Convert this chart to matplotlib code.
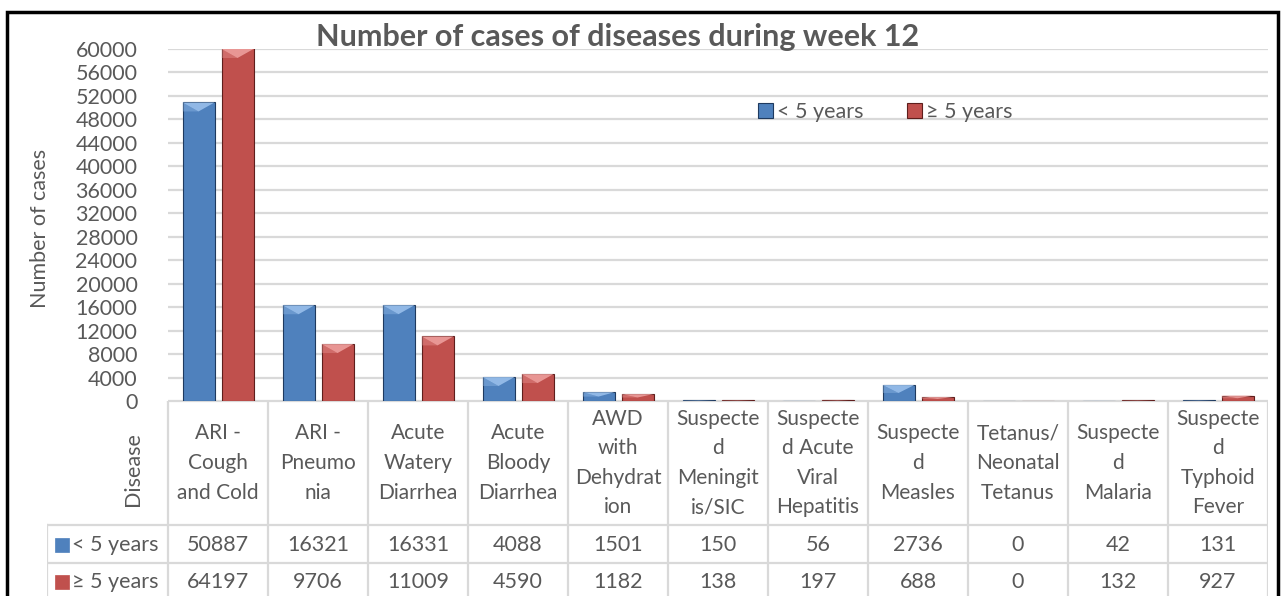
import matplotlib
matplotlib.use("Agg")
import matplotlib.pyplot as plt
from matplotlib.patches import Polygon, Rectangle
from matplotlib.lines import Line2D

plt.rcParams['font.family'] = ['Lato', 'DejaVu Sans']

# data
diseases = ["ARI -\nCough\nand Cold", "ARI -\nPneumo\nnia", "Acute\nWatery\nDiarrhea",
            "Acute\nBloody\nDiarrhea", "AWD\nwith\nDehydrat\nion", "Suspecte\nd\nMeningit\nis/SIC",
            "Suspecte\nd Acute\nViral\nHepatitis", "Suspecte\nd\nMeasles", "Tetanus/\nNeonatal\nTetanus",
            "Suspecte\nd\nMalaria", "Suspecte\nd\nTyphoid\nFever"]
under5 = [50887, 16321, 16331, 4088, 1501, 150, 56, 2736, 0, 42, 131]
over5 = [64197, 9706, 11009, 4590, 1182, 138, 197, 688, 0, 132, 927]
series_names = ["< 5 years", "\u2265 5 years"]
yticks = list(range(0, 60001, 4000))

W, H = 1286, 596
grey = '#595959'
grid = '#D9D9D9'
blue, blue_dk, blue_lt = '#4F81BD', '#1F3A5F', '#9DC3EE'
red, red_dk, red_lt = '#C0504D', '#5E1E1C', '#F0A3A1'
fs = 15.5

fig = plt.figure(figsize=(W / 100, H / 100), dpi=100)

def fx(px):
    return px / W

def fy(py):
    return 1 - py / H

# chart border
fig.patches.append(Rectangle((fx(7), fy(640)), fx(1278) - fx(7), fy(12) - fy(640),
                             transform=fig.transFigure, fill=False, edgecolor='black', lw=2.5))

ax = fig.add_axes([fx(168), fy(401), fx(1268) - fx(168), fy(49) - fy(401)])
n = len(diseases)
xs = list(range(n))
bw = 0.32
off = 0.195
ax.set_xlim(-0.5, n - 0.5)
ax.set_ylim(0, 60000)
ax.set_yticks(yticks)
ax.set_yticklabels([str(t) for t in yticks], color=grey, fontsize=fs)
ax.tick_params(axis='y', length=0, pad=22)
ax.set_xticks([])
for s in ax.spines.values():
    s.set_visible(False)
ax.yaxis.grid(True, color=grid, lw=1.6)
ax.set_axisbelow(True)

b1 = ax.bar([x - off for x in xs], under5, bw, color=blue, edgecolor=blue_dk, lw=0.8, zorder=3)
b2 = ax.bar([x + off for x in xs], over5, bw, color=red, edgecolor=red_dk, lw=0.8, zorder=3)

# bevel on top of each bar
depth = 9 * 60000 / 352
for bars, lt in ((b1, blue_lt), (b2, red_lt)):
    for r in bars:
        h = min(r.get_height(), 60000)
        if h <= 0:
            continue
        x0, w = r.get_x(), r.get_width()
        d = min(depth, h / 2)
        ax.add_patch(Polygon([(x0, h), (x0 + w, h), (x0 + w * 0.5, h - d)],
                             closed=True, facecolor=lt, edgecolor='none', alpha=0.85, zorder=4))
        ax.add_patch(Polygon([(x0, h), (x0 + w * 0.5, h - d), (x0 + w * 0.12, h - d), (x0, h - d)],
                             closed=True, facecolor=lt, edgecolor='none', alpha=0.35, zorder=4))

ax.legend([b1, b2], series_names, loc='center', bbox_to_anchor=(fx(885), fy(112)),
          bbox_transform=fig.transFigure, ncol=2, frameon=False, fontsize=fs,
          handlelength=0.7, handleheight=0.7, handletextpad=0.2, columnspacing=2.0,
          labelcolor=grey)

fig.text(fx(618), fy(37), "Number of cases of diseases during week 12", ha='center', va='center',
         fontsize=22, fontweight='bold', color=grey)
fig.text(fx(40), fy(228), "Number of cases", rotation=90, ha='center', va='center',
         fontsize=fs, color=grey)

# data table
tax = fig.add_axes([fx(47), fy(601), fx(1268) - fx(47), fy(401) - fy(601)])
left = -0.5 - 121 / 100
tax.set_xlim(left, n - 0.5)
tax.set_ylim(601, 401)
tax.axis('off')
row_y = [401, 525, 563, 601]
tax.add_line(Line2D([-0.5, n - 0.5], [401, 401], color=grid, lw=1.6))
for yy in row_y[1:]:
    tax.add_line(Line2D([left, n - 0.5], [yy, yy], color=grid, lw=1.6))
for i in range(n + 1):
    tax.add_line(Line2D([i - 0.5, i - 0.5], [401, 601], color=grid, lw=1.6))
tax.add_line(Line2D([left, left], [525, 601], color=grid, lw=1.6))

for i, lab in enumerate(diseases):
    tax.text(i, 463, lab, ha='center', va='center', fontsize=15, color=grey,
             linespacing=1.6, multialignment='center')
    tax.text(i, 545, str(under5[i]), ha='center', va='center', fontsize=fs, color=grey)
    tax.text(i, 582, str(over5[i]), ha='center', va='center', fontsize=fs, color=grey)

tax.text(-0.5 - 35 / 100, 469, "Disease", rotation=90, ha='center', va='center',
         fontsize=fs, color=grey)
for yy, col, lab in ((545, blue, series_names[0]), (582, red, series_names[1])):
    tax.add_patch(Rectangle((left + 8 / 100, yy - 7), 14 / 100, 14, facecolor=col,
                            edgecolor=col, lw=0.5))
    tax.text(left + 25 / 100, yy, lab, ha='left', va='center', fontsize=fs, color=grey)

fig.savefig("out.png", dpi=100)
